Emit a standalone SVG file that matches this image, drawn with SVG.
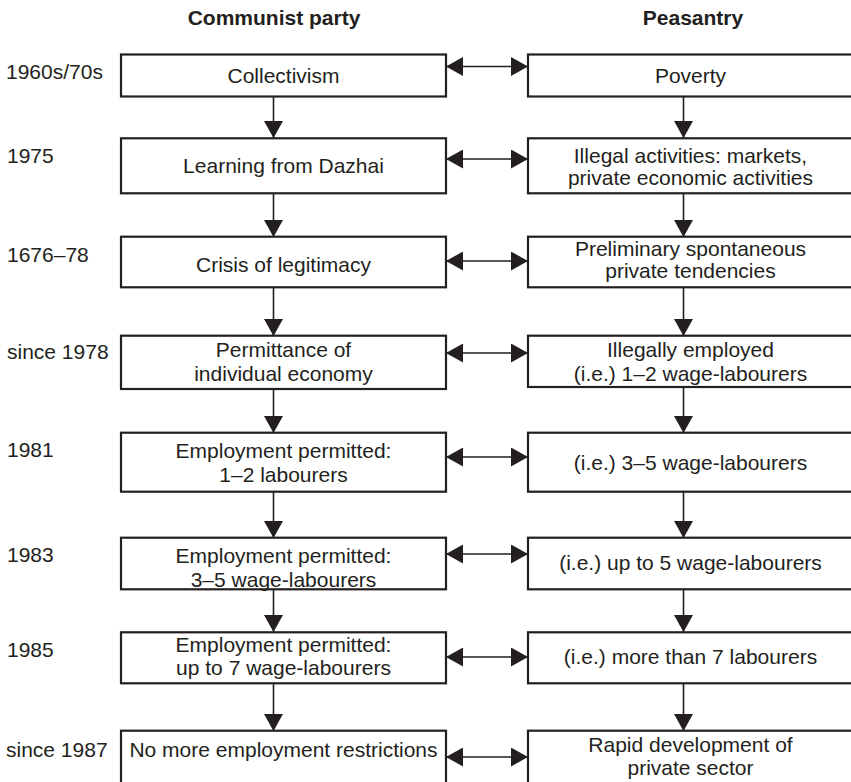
<svg xmlns="http://www.w3.org/2000/svg" width="851" height="782" viewBox="0 0 851 782">
<defs>
<style>
.box{fill:#fff;stroke:#231f20;stroke-width:2.2}
.ln{stroke:#231f20;stroke-width:1.6;fill:none}
.t{font-family:"Liberation Sans",Arial,sans-serif;font-size:21px;fill:#231f20;text-anchor:middle}
.lab{font-family:"Liberation Sans",Arial,sans-serif;font-size:21px;fill:#231f20}
.h{font-family:"Liberation Sans",Arial,sans-serif;font-size:21px;font-weight:bold;fill:#231f20;text-anchor:middle}
</style>
<marker id="ah" markerUnits="userSpaceOnUse" markerWidth="17" markerHeight="19" refX="17" refY="9.5" orient="auto-start-reverse">
<path d="M0,0 L17,9.5 L0,19 Z" fill="#231f20"/>
</marker>
</defs>
<rect width="851" height="782" fill="#fff"/>
<g id="headings">
<text class="h" x="274" y="25">Communist party</text>
<text class="h" x="693" y="25">Peasantry</text>
</g>
<g id="years">
<text class="lab" x="6" y="79">1960s/70s</text>
<text class="lab" x="7" y="163">1975</text>
<text class="lab" x="7" y="262">1676–78</text>
<text class="lab" x="7" y="359">since 1978</text>
<text class="lab" x="7" y="457">1981</text>
<text class="lab" x="7" y="562">1983</text>
<text class="lab" x="7" y="657">1985</text>
<text class="lab" x="6" y="757">since 1987</text>
</g>
<g id="connectors">
<line class="ln" x1="273.5" y1="97" x2="273.5" y2="138" marker-end="url(#ah)"/>
<line class="ln" x1="273.5" y1="193" x2="273.5" y2="237" marker-end="url(#ah)"/>
<line class="ln" x1="273.5" y1="287" x2="273.5" y2="336" marker-end="url(#ah)"/>
<line class="ln" x1="273.5" y1="389" x2="273.5" y2="433" marker-end="url(#ah)"/>
<line class="ln" x1="273.5" y1="492" x2="273.5" y2="538" marker-end="url(#ah)"/>
<line class="ln" x1="273.5" y1="589" x2="273.5" y2="632" marker-end="url(#ah)"/>
<line class="ln" x1="273.5" y1="683" x2="273.5" y2="731" marker-end="url(#ah)"/>
<line class="ln" x1="683.5" y1="97" x2="683.5" y2="138" marker-end="url(#ah)"/>
<line class="ln" x1="683.5" y1="193" x2="683.5" y2="237" marker-end="url(#ah)"/>
<line class="ln" x1="683.5" y1="287" x2="683.5" y2="336" marker-end="url(#ah)"/>
<line class="ln" x1="683.5" y1="387" x2="683.5" y2="433" marker-end="url(#ah)"/>
<line class="ln" x1="683.5" y1="492" x2="683.5" y2="538" marker-end="url(#ah)"/>
<line class="ln" x1="683.5" y1="589" x2="683.5" y2="632" marker-end="url(#ah)"/>
<line class="ln" x1="683.5" y1="683" x2="683.5" y2="731" marker-end="url(#ah)"/>
<line class="ln" x1="446" y1="66.5" x2="528" y2="66.5" marker-start="url(#ah)" marker-end="url(#ah)"/>
<line class="ln" x1="446" y1="159" x2="528" y2="159" marker-start="url(#ah)" marker-end="url(#ah)"/>
<line class="ln" x1="446" y1="261" x2="528" y2="261" marker-start="url(#ah)" marker-end="url(#ah)"/>
<line class="ln" x1="446" y1="353" x2="528" y2="353" marker-start="url(#ah)" marker-end="url(#ah)"/>
<line class="ln" x1="446" y1="457" x2="528" y2="457" marker-start="url(#ah)" marker-end="url(#ah)"/>
<line class="ln" x1="446" y1="554" x2="528" y2="554" marker-start="url(#ah)" marker-end="url(#ah)"/>
<line class="ln" x1="446" y1="657" x2="528" y2="657" marker-start="url(#ah)" marker-end="url(#ah)"/>
<line class="ln" x1="446" y1="757" x2="528" y2="757" marker-start="url(#ah)" marker-end="url(#ah)"/>
</g>
<g id="p1"><rect class="box" x="121" y="54.5" width="325" height="42"/><text class="t" x="283.5" y="83">Collectivism</text></g>
<g id="p2"><rect class="box" x="121" y="138.3" width="325" height="55"/><text class="t" x="283.5" y="173">Learning from Dazhai</text></g>
<g id="p3"><rect class="box" x="121" y="236.7" width="325" height="50.6"/><text class="t" x="283.5" y="272">Crisis of legitimacy</text></g>
<g id="p4"><rect class="box" x="121" y="335.7" width="325" height="53.3"/><text class="t" x="283.5" y="356.7">Permittance of</text><text class="t" x="283.5" y="380.7">individual economy</text></g>
<g id="p5"><rect class="box" x="121" y="432.7" width="325" height="59"/><text class="t" x="283.5" y="458.3">Employment permitted:</text><text class="t" x="283.5" y="481.7">1–2 labourers</text></g>
<g id="p6"><rect class="box" x="121" y="537.7" width="325" height="51.6"/><text class="t" x="283.5" y="563">Employment permitted:</text><text class="t" x="283.5" y="586.5">3–5 wage-labourers</text></g>
<g id="p7"><rect class="box" x="121" y="632.3" width="325" height="51"/><text class="t" x="283.5" y="652">Employment permitted:</text><text class="t" x="283.5" y="675">up to 7 wage-labourers</text></g>
<g id="p8"><rect class="box" x="121" y="730.7" width="325" height="70"/><text class="t" x="283.5" y="756.7">No more employment restrictions</text></g>
<g id="s1"><rect class="box" x="528" y="54.5" width="330" height="42"/><text class="t" x="690.5" y="83">Poverty</text></g>
<g id="s2"><rect class="box" x="528" y="138.3" width="330" height="55"/><text class="t" x="690.5" y="163">Illegal activities: markets,</text><text class="t" x="690.5" y="185">private economic activities</text></g>
<g id="s3"><rect class="box" x="528" y="236.7" width="330" height="50.6"/><text class="t" x="690.5" y="256">Preliminary spontaneous</text><text class="t" x="690.5" y="278">private tendencies</text></g>
<g id="s4"><rect class="box" x="528" y="335.7" width="330" height="51.3"/><text class="t" x="690.5" y="356.7">Illegally employed</text><text class="t" x="690.5" y="380.7">(i.e.) 1–2 wage-labourers</text></g>
<g id="s5"><rect class="box" x="528" y="432.7" width="330" height="59"/><text class="t" x="690.5" y="470">(i.e.) 3–5 wage-labourers</text></g>
<g id="s6"><rect class="box" x="528" y="537.7" width="330" height="51.6"/><text class="t" x="690.5" y="570">(i.e.) up to 5 wage-labourers</text></g>
<g id="s7"><rect class="box" x="528" y="632.3" width="330" height="51"/><text class="t" x="690.5" y="664">(i.e.) more than 7 labourers</text></g>
<g id="s8"><rect class="box" x="528" y="730.7" width="330" height="70"/><text class="t" x="690.5" y="752">Rapid development of</text><text class="t" x="690.5" y="775">private sector</text></g>
</svg>
